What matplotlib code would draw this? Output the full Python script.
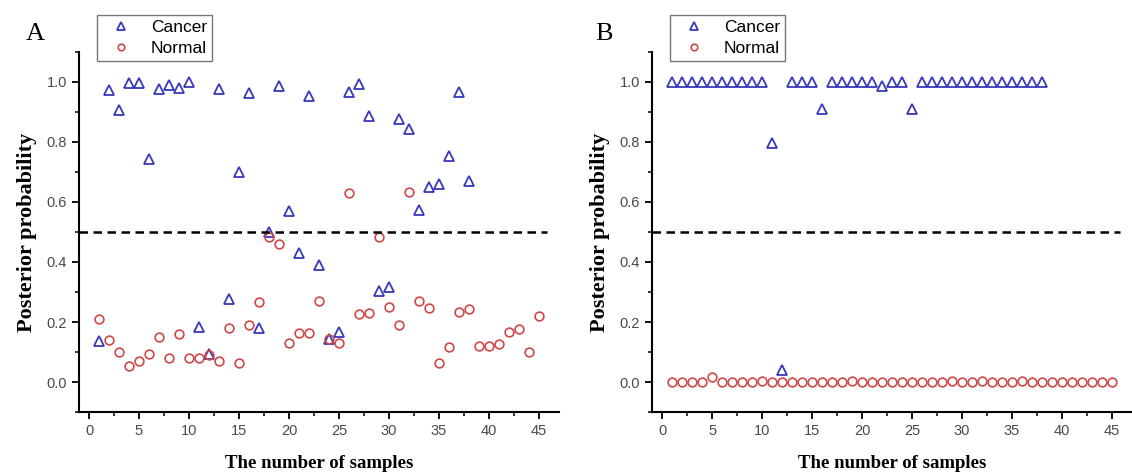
import numpy as np
import matplotlib
matplotlib.use('Agg')
import matplotlib.pyplot as plt
from matplotlib.ticker import MultipleLocator

# sample index
cancer_x = np.arange(1, 39)
normal_x = np.arange(1, 46)

# panel A
cancer_a = [0.137, 0.973, 0.907, 0.998, 0.998, 0.742, 0.976, 0.990, 0.979, 1.000,
            0.184, 0.095, 0.976, 0.277, 0.701, 0.964, 0.181, 0.500, 0.987, 0.571,
            0.431, 0.954, 0.390, 0.142, 0.166, 0.968, 0.992, 0.888, 0.303, 0.318,
            0.877, 0.842, 0.573, 0.651, 0.659, 0.753, 0.966, 0.670]
normal_a = [0.209, 0.140, 0.099, 0.053, 0.070, 0.093, 0.151, 0.080, 0.160, 0.081,
            0.081, 0.090, 0.071, 0.179, 0.064, 0.190, 0.268, 0.484, 0.459, 0.131,
            0.162, 0.164, 0.271, 0.143, 0.129, 0.629, 0.226, 0.229, 0.484, 0.250,
            0.190, 0.634, 0.270, 0.247, 0.062, 0.117, 0.232, 0.242, 0.120, 0.120,
            0.126, 0.166, 0.176, 0.099, 0.220]

# panel B
cancer_b = [1.0, 1.0, 1.0, 1.0, 1.0, 1.0, 1.0, 1.0, 1.0, 1.0,
            0.798, 0.040, 1.0, 1.0, 1.0, 0.909, 1.0, 1.0, 1.0, 1.0,
            1.0, 0.988, 1.0, 1.0, 0.909, 1.0, 1.0, 1.0, 1.0, 1.0,
            1.0, 1.0, 1.0, 1.0, 1.0, 1.0, 1.0, 1.0]
normal_b = [0.0, 0.0, 0.0, 0.0, 0.018, 0.0, 0.0, 0.0, 0.0, 0.004,
            0.0, 0.0, 0.0, 0.0, 0.0, 0.0, 0.0, 0.0, 0.004, 0.0,
            0.0, 0.0, 0.0, 0.0, 0.0, 0.0, 0.0, 0.0, 0.004, 0.0,
            0.0, 0.003, 0.0, 0.0, 0.0, 0.004, 0.0, 0.0, 0.0, 0.0,
            0.0, 0.0, 0.0, 0.0, 0.0]

blue = '#3838bb'
red = '#d04848'
tick_col = '#4a4a4a'
serif = ['Liberation Serif', 'DejaVu Serif']

plt.rcParams['font.family'] = ['Liberation Sans', 'DejaVu Sans']

fig = plt.figure(figsize=(11.32, 4.72), dpi=100)


def panel(rect, letter, cx, cy, nx, ny, letter_x):
    ax = fig.add_axes(rect)
    ax.plot(cx, cy, linestyle='none', marker='^', markersize=7, markerfacecolor='none',
            markeredgecolor=blue, markeredgewidth=1.3, label='Cancer')
    ax.plot(nx, ny, linestyle='none', marker='o', markersize=6.3, markerfacecolor='none',
            markeredgecolor=red, markeredgewidth=1.2, label='Normal')
    ax.plot([-1, 45.8], [0.5, 0.5], color='black', linewidth=1.8, dashes=(3.4, 2.2))

    ax.set_xlim(-1, 47)
    ax.set_ylim(-0.1, 1.1)
    ax.xaxis.set_major_locator(MultipleLocator(5))
    ax.xaxis.set_minor_locator(MultipleLocator(2.5))
    ax.yaxis.set_minor_locator(MultipleLocator(0.1))
    ax.set_yticks([0.0, 0.2, 0.4, 0.6, 0.8, 1.0])
    ax.set_yticklabels(['0.0', '0.2', '0.4', '0.6', '0.8', '1.0'])

    for s in ['top', 'right']:
        ax.spines[s].set_visible(False)
    for s in ['left', 'bottom']:
        ax.spines[s].set_linewidth(1.5)
    ax.tick_params(which='major', direction='out', length=5, width=1.3,
                   labelsize=10.5, labelcolor=tick_col)
    ax.tick_params(which='minor', direction='out', length=3, width=1.1)

    ax.set_xlabel('The number of samples', family=serif,
                  fontweight='bold', fontsize=13.5, labelpad=12)
    ax.set_ylabel('Posterior probability', family=serif,
                  fontweight='bold', fontsize=16, labelpad=7)

    leg = ax.legend(loc='upper left', bbox_to_anchor=(rect[0] + 0.016, 0.968),
                    bbox_transform=fig.transFigure, fontsize=12.5, frameon=True,
                    fancybox=False, borderpad=0.3, borderaxespad=0, handletextpad=0.7,
                    labelspacing=0.3, handlelength=2.1, markerscale=0.75)
    leg.get_frame().set_edgecolor('#555555')
    leg.get_frame().set_linewidth(1.0)

    fig.text(letter_x, 0.905, letter, family=serif,
             fontsize=19, ha='left', va='bottom')
    return ax


panel([0.0698, 0.127, 0.424, 0.763], 'A', cancer_x, cancer_a, normal_x, normal_a, 0.023)
panel([0.576, 0.127, 0.424, 0.763], 'B', cancer_x, cancer_b, normal_x, normal_b, 0.526)

fig.savefig('out.png', dpi=100)
